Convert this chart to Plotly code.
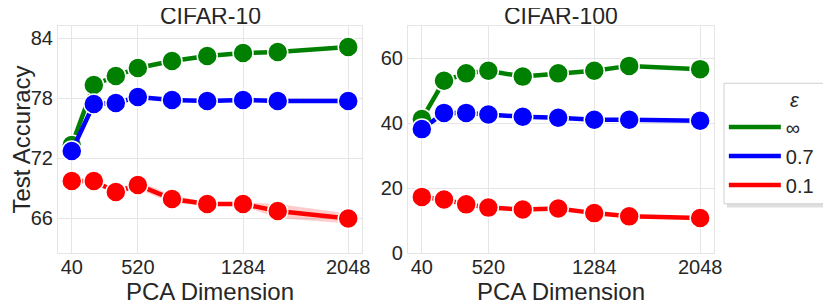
import plotly.graph_objects as go
from plotly.subplots import make_subplots

dims = [40, 200, 360, 520, 768, 1024, 1284, 1536, 2048]
x_ticks = [40, 520, 1284, 2048]
series_names = ["∞", "0.7", "0.1"]
series_colors = ["#008000", "#0000ff", "#ff0000"]

c10_inf = [73.3, 79.3, 80.2, 81.0, 81.7, 82.2, 82.5, 82.6, 83.1]
c10_07 = [72.7, 77.4, 77.5, 78.1, 77.8, 77.7, 77.8, 77.7, 77.7]
c10_01 = [69.7, 69.7, 68.6, 69.3, 67.9, 67.4, 67.4, 66.7, 65.95]
c10_01_ci = [0.1, 0.1, 0.2, 0.4, 0.4, 0.15, 0.2, 0.7, 0.5]

c100_inf = [41.3, 53.1, 55.4, 56.2, 54.4, 55.4, 56.2, 57.7, 56.7]
c100_07 = [38.2, 43.2, 43.2, 42.7, 42.0, 41.7, 41.1, 41.1, 40.8]
c100_01 = [17.3, 16.5, 15.0, 14.0, 13.4, 13.7, 12.3, 11.3, 10.8]

FONT = "Liberation Sans, Arial, sans-serif"
TXT = "#262626"
NB = "\u00a0"

fig = make_subplots(rows=1, cols=2, subplot_titles=("CIFAR-10", "CIFAR-100"),
                    horizontal_spacing=0.07)

# CI band for red series on CIFAR-10
upper = [v + c for v, c in zip(c10_01, c10_01_ci)]
lower = [v - c for v, c in zip(c10_01, c10_01_ci)]
fig.add_trace(go.Scatter(x=dims + dims[::-1], y=upper + lower[::-1], fill="toself",
                         fillcolor="rgba(255,0,0,0.2)", line=dict(width=0),
                         hoverinfo="skip", showlegend=False), row=1, col=1)

panels = [(1, [c10_inf, c10_07, c10_01]), (2, [c100_inf, c100_07, c100_01])]
for col, data in panels:
    for name, color, ys in zip(series_names, series_colors, data):
        fig.add_trace(go.Scatter(x=dims, y=ys, mode="lines+markers", name=name,
                                 line=dict(color=color, width=4.5),
                                 marker=dict(size=20, color=color, line=dict(color="white", width=1.5)),
                                 showlegend=False), row=1, col=col)

# legend-only line entries
for name, color in zip(series_names, series_colors):
    fig.add_trace(go.Scatter(x=[None], y=[None], mode="lines", name=name,
                             line=dict(color=color, width=4.5),
                             showlegend=True), row=1, col=1)

grid = "#e5e5e5"
axis_common = dict(showgrid=True, gridcolor=grid, gridwidth=1, showline=True, linecolor=grid,
                   linewidth=1.2, mirror=True, zeroline=False, ticks="", ticklen=0,
                   tickfont=dict(size=20, color=TXT, family=FONT))
fig.update_xaxes(range=[-60, 2148], tickvals=x_ticks, ticklabelstandoff=-4, **axis_common,
                 title=dict(text="PCA Dimension", font=dict(size=24, color=TXT, family=FONT), standoff=0))
fig.update_yaxes(**axis_common)
fig.update_yaxes(range=[62.5, 85.2], tickvals=[66, 72, 78, 84], row=1, col=1,
                 title=dict(text="Test Accuracy", font=dict(size=24, color=TXT, family=FONT), standoff=0))
fig.update_yaxes(range=[0, 70], tickvals=[0, 20, 40, 60], row=1, col=2)

fig.update_layout(
    xaxis=dict(domain=[0, 0.4634]),
    xaxis2=dict(domain=[0.5335, 1]),
    width=823, height=299,
    margin=dict(l=50, r=117, t=18, b=54, autoexpand=False),
    plot_bgcolor="white", paper_bgcolor="white",
    font=dict(family=FONT, color=TXT),
    legend=dict(x=1.015, y=0.755, xanchor="left", yanchor="top",
                bgcolor="rgba(0,0,0,0)", borderwidth=0,
                font=dict(size=20, family=FONT, color=TXT),
                title=dict(text=NB, side="top", font=dict(size=20)),
                itemwidth=52, tracegroupgap=0),
)
for ann in fig.layout.annotations:
    ann.font = dict(size=23, color=TXT, family=FONT)
    ann.yshift = -5

# legend frame: shadow and box (paper coords of the legend area)
fig.add_shape(type="rect", xref="paper", yref="paper", x0=1.0198, x1=1.1753, y0=0.2000, y1=0.7345,
              fillcolor="rgba(0,0,0,0.13)", line=dict(width=0), layer="below")
fig.add_shape(type="rect", xref="paper", yref="paper", x0=1.0152, x1=1.1707, y0=0.2168, y1=0.7478,
              fillcolor="white", line=dict(color="#d0d0d0", width=1), layer="below")
# legend title
fig.add_annotation(x=1.1235, y=0.673, xref="paper", yref="paper", text="<i>ε</i>",
                   showarrow=False, font=dict(size=20, color=TXT, family=FONT),
                   xanchor="center", yanchor="middle")

fig.write_html("out.html")
